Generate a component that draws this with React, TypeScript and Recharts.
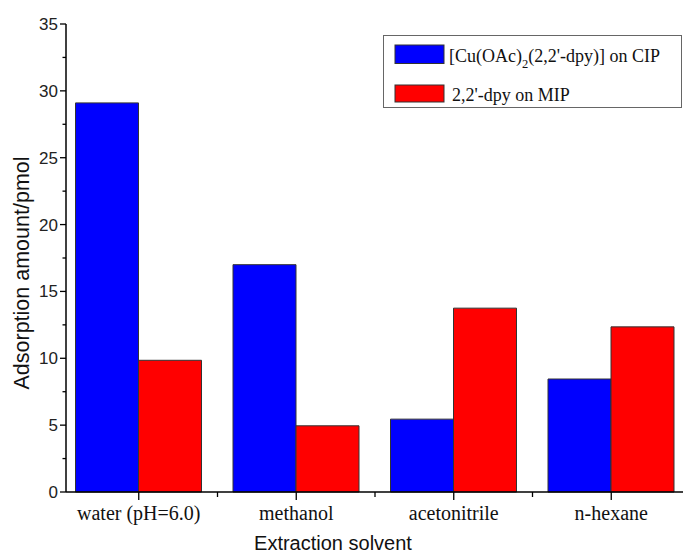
import React from 'react';
import { BarChart, Bar, XAxis, YAxis, Legend } from 'recharts';

const solvents = ['water (pH=6.0)', 'methanol', 'acetonitrile', 'n-hexane'];
const cipAmounts = [29.1, 17.0, 5.45, 8.45];
const mipAmounts = [9.85, 4.95, 13.75, 12.35];
const yTickValues = [0, 2.5, 5, 7.5, 10, 12.5, 15, 17.5, 20, 22.5, 25, 27.5, 30, 32.5, 35];

// legend labels split as [before subscript, subscript, after subscript]
const cipLabel = ['[Cu(OAc)', '2', "(2,2'-dpy)] on CIP"];
const mipLabel = ["2,2'-dpy on MIP", '', ''];
const legendOrder = ['cip', 'mip'];

const data = solvents.map((s, i) => ({ solvent: s, cip: cipAmounts[i], mip: mipAmounts[i] }));

const BAND = 157.5;

const YTick = (props: any) => {
  const { x, y, payload } = props;
  const major = payload.value % 5 === 0;
  return (
    <g>
      <line x1={x - (major ? 6 : 3.5)} x2={x} y1={y} y2={y} stroke="#000" strokeWidth={1.3} />
      {major && (
        <text x={x - 8} y={y + 6} textAnchor="end" fontFamily="'Liberation Sans', Arial, sans-serif" fontSize={17} fill="#222">
          {payload.value}
        </text>
      )}
    </g>
  );
};

const XTick = (props: any) => {
  const { x, y, payload, index } = props;
  return (
    <g>
      <line x1={x} x2={x} y1={y} y2={y + 8} stroke="#000" strokeWidth={1.3} />
      {index < solvents.length - 1 && (
        <line x1={x + BAND / 2} x2={x + BAND / 2} y1={y} y2={y + 5} stroke="#000" strokeWidth={1.3} />
      )}
      <text x={x} y={y + 28} textAnchor="middle" fontFamily="'Liberation Serif', 'Times New Roman', serif" fontSize={20} fill="#111">
        {payload.value}
      </text>
    </g>
  );
};

const LegendBox = (props: any) => {
  const items = [...(props.payload || [])].sort(
    (a: any, b: any) => legendOrder.indexOf(a.dataKey) - legendOrder.indexOf(b.dataKey)
  );
  const labels: Record<string, string[]> = { cip: cipLabel, mip: mipLabel };
  const rows = [
    { top: 10, h: 18.5, tx: 66, ty: 27 },
    { top: 50, h: 17, tx: 69, ty: 66 },
  ];
  return (
    <svg width={300} height={74} style={{ display: 'block' }}>
      <rect x={0.5} y={0.5} width={298} height={72} fill="#fff" stroke="#666" strokeWidth={1} />
      {items.map((entry: any, i: number) => {
        const r = rows[i];
        const parts = labels[entry.dataKey] || [String(entry.value), '', ''];
        return (
          <g key={entry.dataKey}>
            <rect x={12} y={r.top} width={49} height={r.h} fill={entry.color} stroke="#333" strokeWidth={1} />
            <text x={r.tx} y={r.ty} fontFamily="'Liberation Serif', 'Times New Roman', serif" fontSize={18} fill="#111">
              {parts[0]}
              {parts[1] && (
                <tspan dy={6} fontSize={12.5}>{parts[1]}</tspan>
              )}
              {parts[2] && <tspan dy={parts[1] ? -6 : 0}>{parts[2]}</tspan>}
            </text>
          </g>
        );
      })}
    </svg>
  );
};

export default function App() {
  return (
    <div style={{ position: 'absolute', left: 0, top: 0, width: 683, height: 553, overflow: 'hidden', background: '#fff' }}>
      <BarChart
        width={700}
        height={553}
        data={data}
        margin={{ top: 24, right: 10, left: 0, bottom: 0 }}
        barCategoryGap={15.5}
        barGap={0}
      >
        <XAxis
          dataKey="solvent"
          type="category"
          height={61}
          padding={{ left: -6, right: 0 }}
          axisLine={{ stroke: '#000', strokeWidth: 1.5 }}
          tickLine={false}
          tickSize={0}
          tickMargin={0}
          interval={0}
          tick={<XTick />}
          label={() => (
            <text x={333} y={550} textAnchor="middle" fontFamily="'Liberation Sans', Arial, sans-serif" fontSize={20} fill="#111">
              Extraction solvent
            </text>
          )}
        />
        <YAxis
          type="number"
          domain={[0, 35]}
          ticks={yTickValues}
          interval={0}
          width={66}
          axisLine={{ stroke: '#000', strokeWidth: 1.5 }}
          tickLine={false}
          tickSize={0}
          tickMargin={0}
          tick={<YTick />}
          label={() => (
            <text
              x={0}
              y={0}
              transform="translate(29, 273) rotate(-90)"
              textAnchor="middle"
              fontFamily="'Liberation Sans', Arial, sans-serif"
              fontSize={21.5}
              fill="#111"
            >
              Adsorption amount/pmol
            </text>
          )}
        />
        <Legend
          layout="vertical"
          align="center"
          verticalAlign="middle"
          content={<LegendBox />}
          wrapperStyle={{ position: 'absolute', left: 383, top: 35, width: 300, height: 74 }}
        />
        <Bar dataKey="cip" name="[Cu(OAc)2(2,2'-dpy)] on CIP" fill="#0000ff" stroke="#333" strokeWidth={1} isAnimationActive={false} />
        <Bar dataKey="mip" name="2,2'-dpy on MIP" fill="#ff0000" stroke="#333" strokeWidth={1} isAnimationActive={false} />
      </BarChart>
    </div>
  );
}
